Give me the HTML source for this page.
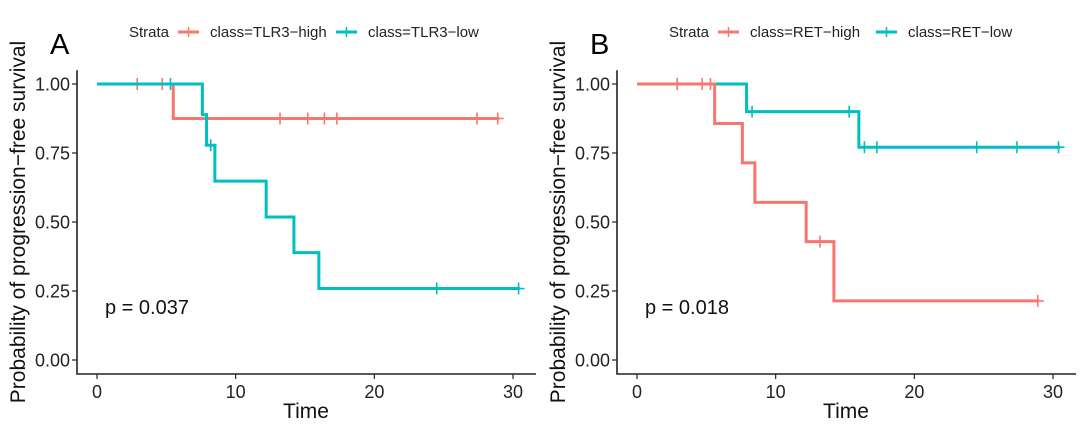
<!DOCTYPE html>
<html><head><meta charset="utf-8"><style>
html,body{margin:0;padding:0;background:#fff;width:1080px;height:430px;overflow:hidden}
svg{display:block;font-family:"Liberation Sans",Arial,sans-serif}
</style></head><body>
<svg id="svg" width="1080" height="430" viewBox="0 0 1080 430"></svg>
<script>
// Panel A data
const aHighTimes=[0,5.5];
const aHighSurv=[1,0.875];
const aHighEnd=29;
const aHighCensor=[2.9,4.7,13.2,15.2,16.4,17.3,27.4,28.9];
const aLowTimes=[0,7.6,7.9,8.5,12.2,14.2,16.0];
const aLowSurv=[1,0.889,0.778,0.648,0.518,0.389,0.259];
const aLowEnd=30.5;
const aLowCensor=[5.3,8.2,24.5,30.4];
// Panel B data
const bHighTimes=[0,5.6,7.6,8.5,12.2,14.2];
const bHighSurv=[1,0.857,0.714,0.571,0.429,0.214];
const bHighEnd=29;
const bHighCensor=[2.9,4.7,5.3,13.2,28.9];
const bLowTimes=[0,7.9,16.0];
const bLowSurv=[1,0.9,0.771];
const bLowEnd=30.5;
const bLowCensor=[8.3,15.3,16.4,17.3,24.5,27.4,30.4];
const xTicks=[0,10,20,30];
const yTicks=[0,0.25,0.5,0.75,1];
const yTickLabels=["0.00","0.25","0.50","0.75","1.00"];

const NS="http://www.w3.org/2000/svg";
const svg=document.getElementById('svg');
function mk(tag,attrs,parent){const e=document.createElementNS(NS,tag);for(const k in attrs)e.setAttribute(k,attrs[k]);(parent||svg).appendChild(e);return e;}
const RED="#F8766D",CYAN="#00BFC4";

function panel(off,letter,p,labels,series){
  const g=mk('g',{});
  
  
  const X=t=>off+97+t*(416/30);
  const Y=v=>360-v*276;
  const axL=off+77, axB=374;
  const ax=mk('path',{d:`M${axL},${Y(1.05)}V${axB}H${off+536}`,stroke:"#222",fill:"none","stroke-width":1.6},g);
  
  
  xTicks.forEach(t=>{
    mk('line',{x1:X(t),x2:X(t),y1:axB,y2:axB+5,stroke:"#222","stroke-width":1.2},g);
    const tx=mk('text',{x:X(t),y:axB+24,"text-anchor":"middle","font-size":18,fill:"#222"},g);
    tx.textContent=t;
    
    
  });
  yTicks.forEach((v,i)=>{
    mk('line',{x1:axL-5,x2:axL,y1:Y(v),y2:Y(v),stroke:"#222","stroke-width":1.2},g);
    const tx=mk('text',{x:axL-7,y:Y(v)+6.5,"text-anchor":"end","font-size":18,fill:"#222"},g);
    tx.textContent=yTickLabels[i];
    
    
  });
  const xt=mk('text',{x:off+306,y:418,"text-anchor":"middle","font-size":21,fill:"#111"},g);
  xt.textContent="Time";
  
  
  const yt=mk('text',{transform:`translate(${off+25},222) rotate(-90)`,"text-anchor":"middle","font-size":21,fill:"#111"},g);
  yt.textContent="Probability of progression\u2212free survival";
  
  
  const lt=mk('text',{x:off+50,y:54,"font-size":29,fill:"#000"},g);
  lt.textContent=letter;
  
  
  const pt=mk('text',{x:off+105,y:314,"font-size":20,fill:"#111"},g);
  pt.textContent=p;
  
  
  const lg=mk('g',{},g);
  
  
  const st=mk('text',{x:off+129,y:37,"font-size":15,fill:"#222"},lg);
  st.textContent="Strata";
  const kx=[off+178,off+336], tx0=[off+210,off+368];
  [RED,CYAN].forEach((c,i)=>{
    mk('line',{x1:kx[i],x2:kx[i]+21,y1:32,y2:32,stroke:c,"stroke-width":3},lg);
    mk('line',{x1:kx[i]+10.5,x2:kx[i]+10.5,y1:27,y2:37,stroke:c,"stroke-width":1.5},lg);
    const t=mk('text',{x:tx0[i],y:37,"font-size":15,fill:"#222"},lg);
    t.textContent=labels[i];
    
    
  });
  series.forEach(s=>{
    let d=`M${X(s.times[0])},${Y(s.surv[0])}`;
    for(let i=1;i<s.times.length;i++){d+=`H${X(s.times[i])}V${Y(s.surv[i])}`;}
    d+=`H${X(s.end)}`;
    const path=mk('path',{d:d,stroke:s.color,fill:"none","stroke-width":3},g);
    
    
    s.censor.forEach(t=>{
      let v=s.surv[0];
      for(let i=0;i<s.times.length;i++){if(s.times[i]<=t)v=s.surv[i];}
      const cx=X(t),cy=Y(v);
      const c=mk('path',{d:`M${cx-6},${cy}H${cx+6}M${cx},${cy-6}V${cy+6}`,stroke:s.color,"stroke-width":1.6,fill:"none"},g);
      
      
    });
  });
}
panel(0,"A","p = 0.037",["class=TLR3\u2212high","class=TLR3\u2212low"],[
  {name:"tlr3-high",times:aHighTimes,surv:aHighSurv,end:aHighEnd,censor:aHighCensor,color:RED},
  {name:"tlr3-low",times:aLowTimes,surv:aLowSurv,end:aLowEnd,censor:aLowCensor,color:CYAN}]);
panel(540,"B","p = 0.018",["class=RET\u2212high","class=RET\u2212low"],[
  {name:"ret-low",times:bLowTimes,surv:bLowSurv,end:bLowEnd,censor:bLowCensor,color:CYAN},
  {name:"ret-high",times:bHighTimes,surv:bHighSurv,end:bHighEnd,censor:bHighCensor,color:RED}]);
</script>
</body></html>
